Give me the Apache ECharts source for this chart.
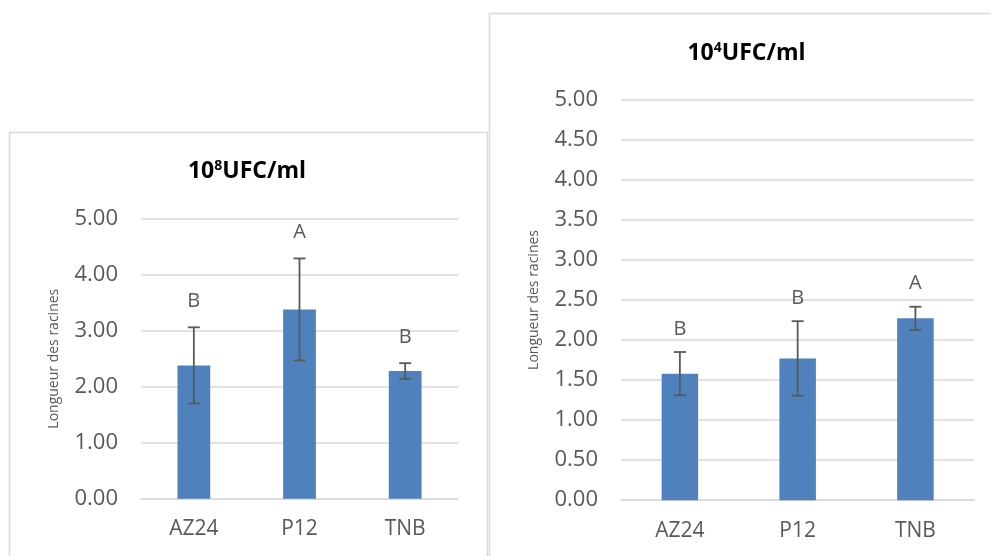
<!DOCTYPE html>
<html>
<head>
<meta charset="utf-8">
<script src="https://cdn.jsdelivr.net/npm/echarts@6/dist/echarts.min.js"></script>
<style>
html,body{margin:0;padding:0;background:#fff;}
#chart{width:991px;height:556px;}
</style>
</head>
<body>
<div id="chart"></div>
<script>
// ---- data ----
var categories = ['AZ24', 'P12', 'TNB'];
var meansHigh = [2.38, 3.38, 2.28];     // 10^8 UFC/ml
var errorsHigh = [0.68, 0.91, 0.14];
var lettersHigh = ['B', 'A', 'B'];
var meansLow = [1.58, 1.77, 2.27];      // 10^4 UFC/ml
var errorsLow = [0.27, 0.465, 0.145];
var lettersLow = ['B', 'B', 'A'];
var yName = 'Longueur des racines';
var titleHigh = ['10', '8', 'UFC/ml'];
var titleLow = ['10', '4', 'UFC/ml'];

var FONT = '"Open Sans", sans-serif';
var TXT = '#595959';
var GRIDC = '#d9d9d9';
var BAR = '#4f81bd';

function errData(means, errs) {
  return means.map(function (m, i) { return [i, m, errs[i]]; });
}

function errRender(letters, gap) {
  return function (params, api) {
    var i = api.value(0), m = api.value(1), e = api.value(2);
    var letter = letters[params.dataIndex];
    var top = api.coord([i, m + e]);
    var bot = api.coord([i, m - e]);
    var hw = 6;
    var st = { stroke: TXT, lineWidth: 1.8 };
    return {
      type: 'group',
      children: [
        { type: 'line', shape: { x1: top[0], y1: top[1], x2: bot[0], y2: bot[1] }, style: st },
        { type: 'line', shape: { x1: top[0] - hw, y1: top[1], x2: top[0] + hw, y2: top[1] }, style: st },
        { type: 'line', shape: { x1: bot[0] - hw, y1: bot[1], x2: bot[0] + hw, y2: bot[1] }, style: st },
        { type: 'text', x: top[0], y: top[1] - gap,
          style: { text: letter, fill: TXT, font: '20px ' + FONT, align: 'center', verticalAlign: 'middle' } }
      ]
    };
  };
}

function yAxisCfg(gridIndex, interval) {
  return {
    gridIndex: gridIndex, type: 'value', min: 0, max: 5, interval: interval,
    name: yName, nameLocation: 'middle', nameGap: 80,
    nameTextStyle: { fontFamily: FONT, fontSize: 14, color: TXT },
    axisLine: { show: false }, axisTick: { show: false },
    axisLabel: { formatter: function (v) { return v.toFixed(2); }, fontFamily: FONT, fontSize: 22, color: TXT, margin: 23 },
    splitLine: { lineStyle: { color: GRIDC, width: 1.5 } }
  };
}
function xAxisCfg(gridIndex) {
  return {
    gridIndex: gridIndex, type: 'category', data: categories,
    axisLine: { show: true, lineStyle: { color: GRIDC, width: 1.5 } },
    axisTick: { show: false },
    axisLabel: { fontFamily: FONT, fontSize: 21, color: TXT, margin: 20 }
  };
}

function titleText(parts, x, y) {
  return {
    type: 'text', x: x, y: y, z: 5,
    style: {
      text: '{b|' + parts[0] + '}{s|' + parts[1] + '}{b|' + parts[2] + '}',
      align: 'center', verticalAlign: 'middle',
      rich: {
        b: { font: 'bold 23px ' + FONT, fill: '#000', lineHeight: 28 },
        s: { font: 'bold 14px ' + FONT, fill: '#000', lineHeight: 28, padding: [0, 0, 10, 0] }
      }
    }
  };
}

var chart = echarts.init(document.getElementById('chart'), null, { renderer: 'canvas' });
chart.setOption({
  backgroundColor: '#fff',
  animation: false,
  graphic: [
    { type: 'rect', z: -10, shape: { x: 9.5, y: 132.5, width: 478, height: 500 },
      style: { fill: '#fff', stroke: GRIDC, lineWidth: 1.5 } },
    { type: 'rect', z: -10, shape: { x: 489.5, y: 13.5, width: 600, height: 600 },
      style: { fill: '#fff', stroke: GRIDC, lineWidth: 1.5 } },
    titleText(titleHigh, 247, 171),
    titleText(titleLow, 746.5, 53)
  ],
  grid: [
    { left: 141, top: 218.7, width: 317, height: 280 },
    { left: 621, top: 99.7, width: 353.3, height: 400.5 }
  ],
  xAxis: [xAxisCfg(0), xAxisCfg(1)],
  yAxis: [yAxisCfg(0, 1), yAxisCfg(1, 0.5)],
  series: [
    { type: 'bar', xAxisIndex: 0, yAxisIndex: 0, data: meansHigh, barWidth: '31%',
      itemStyle: { color: BAR } },
    { type: 'custom', xAxisIndex: 0, yAxisIndex: 0, data: errData(meansHigh, errorsHigh),
      renderItem: errRender(lettersHigh, 26), z: 5 },
    { type: 'bar', xAxisIndex: 1, yAxisIndex: 1, data: meansLow, barWidth: '31%',
      itemStyle: { color: BAR } },
    { type: 'custom', xAxisIndex: 1, yAxisIndex: 1, data: errData(meansLow, errorsLow),
      renderItem: errRender(lettersLow, 23), z: 5 }
  ]
});
</script>
</body>
</html>
